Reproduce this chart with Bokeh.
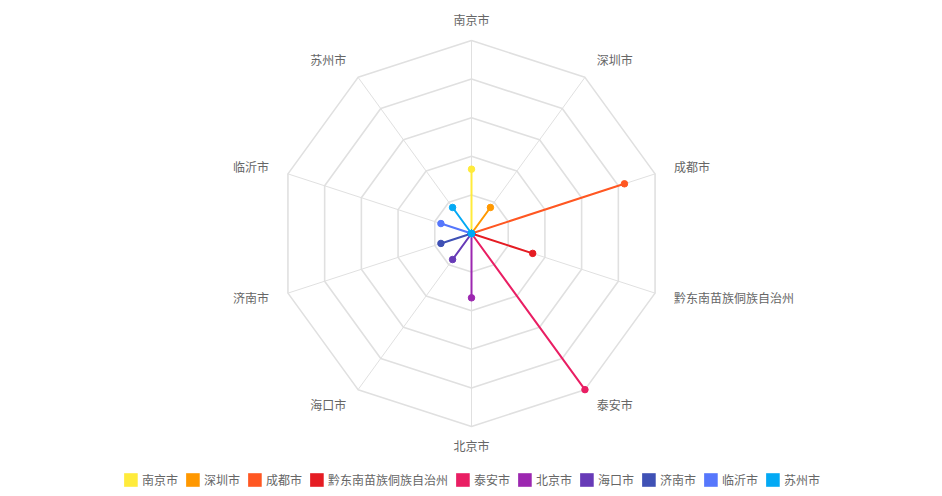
import math
from bokeh.plotting import figure
from bokeh.models import Range1d, Legend, LegendItem
from bokeh.core.properties import value
from bokeh.embed import file_html
from bokeh.resources import INLINE

# ---- data ----
categories = ["南京市", "深圳市", "成都市", "黔东南苗族侗族自治州", "泰安市",
              "北京市", "海口市", "济南市", "临沂市", "苏州市"]
values = [2, 1, 5, 2, 6, 2, 1, 1, 1, 1]
colors = ["#ffeb3b", "#ff9800", "#ff5722", "#e51c23", "#e91e63",
          "#9c27b0", "#673ab7", "#3f51b5", "#5677fc", "#03a9f4"]
max_value = 6
split_number = 5

# ---- layout ----
W, H = 942, 496
cx, cy = 471, H - 233
R = 193
R_LABEL = 213
LABEL_DY = 1.5
FONT = "Noto Sans CJK SC"

p = figure(width=W, height=H, output_backend="svg", toolbar_location=None,
           x_range=Range1d(0, W), y_range=Range1d(0, H), min_border=0)
p.axis.visible = False
p.grid.visible = False
p.outline_line_color = None

n = len(categories)
angles = [2 * math.pi * i / n for i in range(n)]

def pt(r, a):
    return cx + r * math.sin(a), cy + r * math.cos(a)

# rings
for k in range(1, split_number + 1):
    r = R * k / split_number
    xs, ys = zip(*[pt(r, a) for a in angles + [angles[0]]])
    p.line(list(xs), list(ys), line_color="#e0e0e0", line_width=1.6)

# spokes
for a in angles:
    x1, y1 = pt(R, a)
    p.line([cx, x1], [cy, y1], line_color="#e0e0e0", line_width=1)

# axis labels
lx, ly, aligns = [], [], []
for a in angles:
    x, y = pt(R_LABEL, a)
    lx.append(x)
    ly.append(y + LABEL_DY)
    s = math.sin(a)
    aligns.append("center" if abs(s) < 1e-6 else ("left" if s > 0 else "right"))
p.text(x=lx, y=ly, text=categories, text_align=aligns, text_baseline="middle",
       text_font=value(FONT), text_font_size="12px", text_color="#666666")

# series
legend_items = []
for i, (name, v, c) in enumerate(zip(categories, values, colors)):
    vec = [v if j == i else 0 for j in range(n)]
    pts = [pt(R * vec[j] / max_value, angles[j]) for j in range(n)]
    xs = [q[0] for q in pts] + [pts[0][0]]
    ys = [q[1] for q in pts] + [pts[0][1]]
    p.line(xs, ys, line_color=c, line_width=2)
    p.scatter([q[0] for q in pts], [q[1] for q in pts], marker="circle",
              size=6.5, fill_color=c, line_color=c)
    # zero-area quad used only as the square legend swatch
    sq = p.quad(left=[cx], right=[cx], top=[cy], bottom=[cy],
                fill_color=c, line_color=None)
    legend_items.append(LegendItem(label=name, renderers=[sq]))

legend = Legend(items=legend_items, orientation="horizontal", location="bottom_center",
                glyph_width=17, glyph_height=17, label_standoff=3, spacing=6,
                padding=0, margin=8, border_line_alpha=0, background_fill_alpha=0,
                label_text_font=FONT, label_text_font_size="12px",
                label_text_color="#666666", label_height=17)
p.add_layout(legend, "center")

open("out.html", "w").write(file_html(p, INLINE))
